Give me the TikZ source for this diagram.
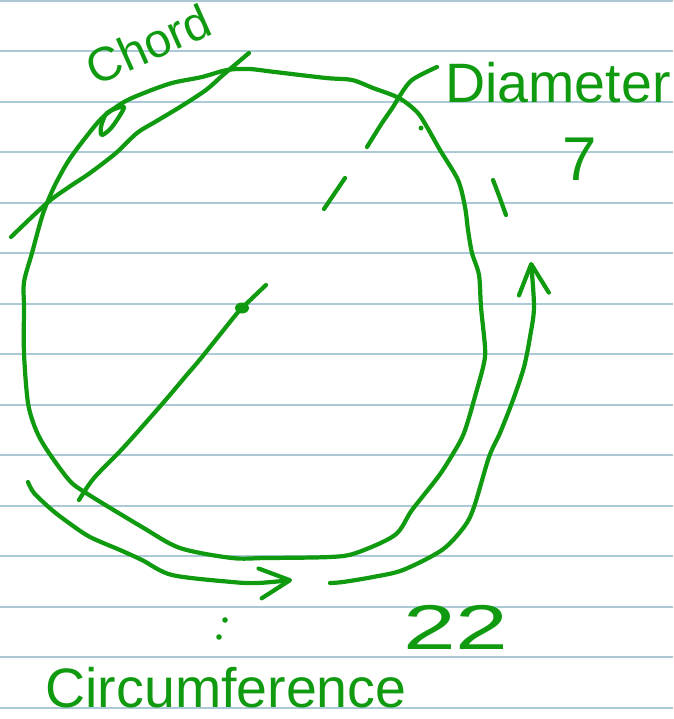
\documentclass[tikz,border=0pt]{standalone}
\usepackage{fontspec}
\setmainfont{Liberation Sans}
\usetikzlibrary{arrows.meta}
\definecolor{ink}{HTML}{109A10}
\definecolor{rule}{HTML}{ABC9D6}
\tikzset{
  pen/.style={draw=ink, line width=6pt, line cap=round, line join=round},
  penarrow/.style={pen, -{Straight Barb[length=1.5cm, width=1.5cm, round]}},
  ruled/.style={draw=rule, line width=2.5pt},
  hand/.style={text=ink, inner sep=0pt, anchor=base, text depth=0pt,
    font=\fontsize{79}{84}\selectfont},
  dot/.style={fill=ink}
}
\begin{document}
\begin{tikzpicture}[x=0.05cm, y=-0.05cm]
  \useasboundingbox (0,0) rectangle (673,719);
  \fill[white] (0,0) rectangle (673,719);
  \foreach \k in {0,...,14}
    \draw[ruled] (0,0.7+50.5*\k) -- (673,0.7+50.5*\k);

  \draw[pen] plot[smooth cycle] coordinates {
    (24,307) (24,353) (28,403) (36,430) (47,450) (69,480) (86,493) (142,527)
    (180,548) (232,558) (266,558) (330,557) (356,553) (395,535) (412,510)
    (438,477) (451,457) (464,433) (476,393) (484,363) (485,347) (481,307)
    (479,275) (472,253) (468,230) (465,207) (458,180) (440,150) (427,127)
    (417,112) (399,98) (373,88) (352,80) (326,78) (275,72) (249,69) (227,70)
    (202,77) (172,83) (144,93) (124,102) (103,117) (86,137) (69,160) (56,183)
    (47,203) (41,220) (32,253) (24,282)};

  \coordinate (chordA) at (11,237);
  \coordinate (chordB) at (249,53);
  \draw[pen] plot[smooth] coordinates {(chordA) (47,203) (69,187) (90,173)
    (116,153) (137,133) (155,122) (180,107) (206,90) (223,75) (chordB)};
  \draw[pen] plot[smooth cycle] coordinates {(124,107) (107,113) (101,127)
    (102,135) (112,127)};

  \coordinate (diamA) at (437,67);
  \coordinate (diamB) at (367,147);
  \coordinate (diamC) at (345,178);
  \coordinate (diamD) at (324,209);
  \coordinate (centre) at (242,308);
  \coordinate (diamE) at (79,500);
  \draw[pen] plot[smooth] coordinates {(diamA) (412,80) (399,97) (393,107)
    (382,123) (diamB)};
  \draw[pen] (diamC) -- (diamD);
  \draw[pen] plot[smooth] coordinates {(266,285) (centre) (234,317) (202,357)
    (185,377) (163,403) (124,447) (94,478) (diamE)};
  \fill[dot] (centre) ellipse (7 and 5.5);
  \fill[dot] (421,128) circle (2.5);
  \draw[pen] plot[smooth] coordinates {(493,180) (498,193) (506,215)};

  \coordinate (arcA) at (28,482);
  \coordinate (arcB) at (292,580);
  \coordinate (arcC) at (330,583);
  \coordinate (arcD) at (531,262);
  \draw[penarrow] plot[smooth] coordinates {(arcA) (34,493) (52,510) (69,523)
    (90,537) (120,550) (142,560) (172,575) (232,582) (258,583) (arcB)};
  \draw[penarrow] plot[smooth] coordinates {(arcC) (343,582) (373,577)
    (403,570) (442,550) (464,527) (474,507) (489,457) (500,433) (513,400)
    (524,367) (530,337) (534,307) (arcD)};
  \fill[dot] (225,620) circle (2.8);
  \fill[dot] (219,637) circle (2.8);

  \node[hand, font=\fontsize{68}{72}\selectfont, rotate=24] (chord) at (155,60) {Chord};
  \node[hand] (diameter) at (558,102) {Diameter};
  \node[hand, font=\fontsize{88}{92}\selectfont] (seven) at (580,180) {7};
  \node[hand, font=\fontsize{90}{94}\selectfont] (twentytwo) at (456,649)
    {\scalebox{1.5}[1]{22}};
  \node[hand] (circumference) at (226,707) {Circumference};
\end{tikzpicture}
\end{document}
